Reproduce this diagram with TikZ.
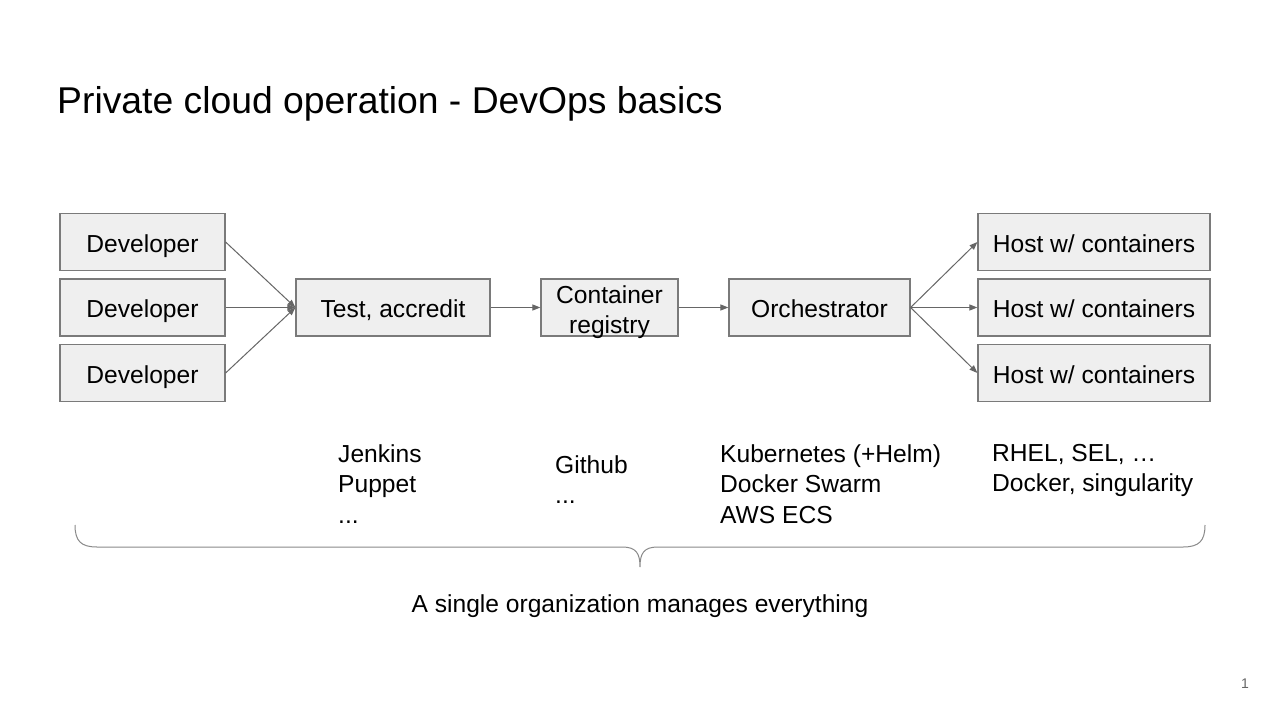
\documentclass[tikz,border=0pt]{standalone}
\usepackage{fontspec}
\setmainfont{Liberation Sans}
\usetikzlibrary{arrows.meta,positioning}
\definecolor{boxfill}{HTML}{EFEFEF}
\definecolor{boxline}{HTML}{7A7A7A}
\definecolor{arrowgray}{HTML}{666666}
\definecolor{bracegray}{HTML}{8A8A8A}

\begin{document}
\begin{tikzpicture}[x=1pt,y=-1pt,
	box/.style={draw=boxline,fill=boxfill,line width=1.2pt,minimum height=57pt,inner sep=0pt,text height=20pt,text depth=0pt,font=\fontsize{24.6}{30}\selectfont},
	flow/.style={draw=arrowgray,line width=1pt,-{Triangle[length=8pt,width=6pt]}},
	tools/.style={anchor=north west,inner sep=0pt,align=left,font=\fontsize{24.6}{30.5}\selectfont}]
			\useasboundingbox[fill=white] (0,0) rectangle (1280,720);
			% title
			\node[anchor=base west,inner sep=0pt,font=\fontsize{37.3}{44}\selectfont] (title) at (57,113) {Private cloud operation - DevOps basics};
			% developers and hosts
			\foreach \i/\y in {1/242,2/307.5,3/373} {
				\node[box,minimum width=165pt] (dev\i) at (142.5,\y) {Developer};
				\node[box,minimum width=232pt] (host\i) at (1094,\y) {Host w/ containers};
			}
			% pipeline
			\node[box,minimum width=194pt] (test) at (393,307.5) {Test, accredit};
			\node[box,minimum width=137pt,text height=0pt,text depth=9pt] (registry) at (609.5,307.5)
				{\vtop{\hbox to 130pt{\hfil Container\hfil}\hbox to 130pt{\hfil registry\hfil}}};
			\node[box,minimum width=181pt] (orch) at (819.5,307.5) {Orchestrator};
			% connectors
			\foreach \i in {1,2,3} {
				\draw[flow] (dev\i.east) -- (test.west);
				\draw[flow] (orch.east) -- (host\i.west);
			}
			\draw[flow] (test) -- (registry);
			\draw[flow] (registry) -- (orch);
			% tools
			\node[tools] (ci) at (338,444) {Jenkins\\Puppet\\...};
			\node[tools] (repo) at (555,455) {Github\\...};
			\node[tools] (sched) at (720,444) {Kubernetes (+Helm)\\Docker Swarm\\AWS ECS};
			\node[tools] (os) at (992,444) {RHEL, SEL, …\\Docker, singularity};
			% brace
			\draw[bracegray,line width=1pt] (75,525) .. controls (75,541) and (81,547) .. (97,547) -- (622,547)
				.. controls (636,547) and (640,553) .. (640,567) .. controls (640,553) and (644,547) .. (658,547)
				-- (1183,547) .. controls (1199,547) and (1205,541) .. (1205,525);
			\node[anchor=base,inner sep=0pt,font=\fontsize{24.6}{30}\selectfont] (owner) at (640,612) {A single organization manages everything};
			% page number
			\node[anchor=base,inner sep=0pt,text=arrowgray,font=\fontsize{14}{16}\selectfont] (page) at (1245,688) {1};
		\end{tikzpicture}
\end{document}
